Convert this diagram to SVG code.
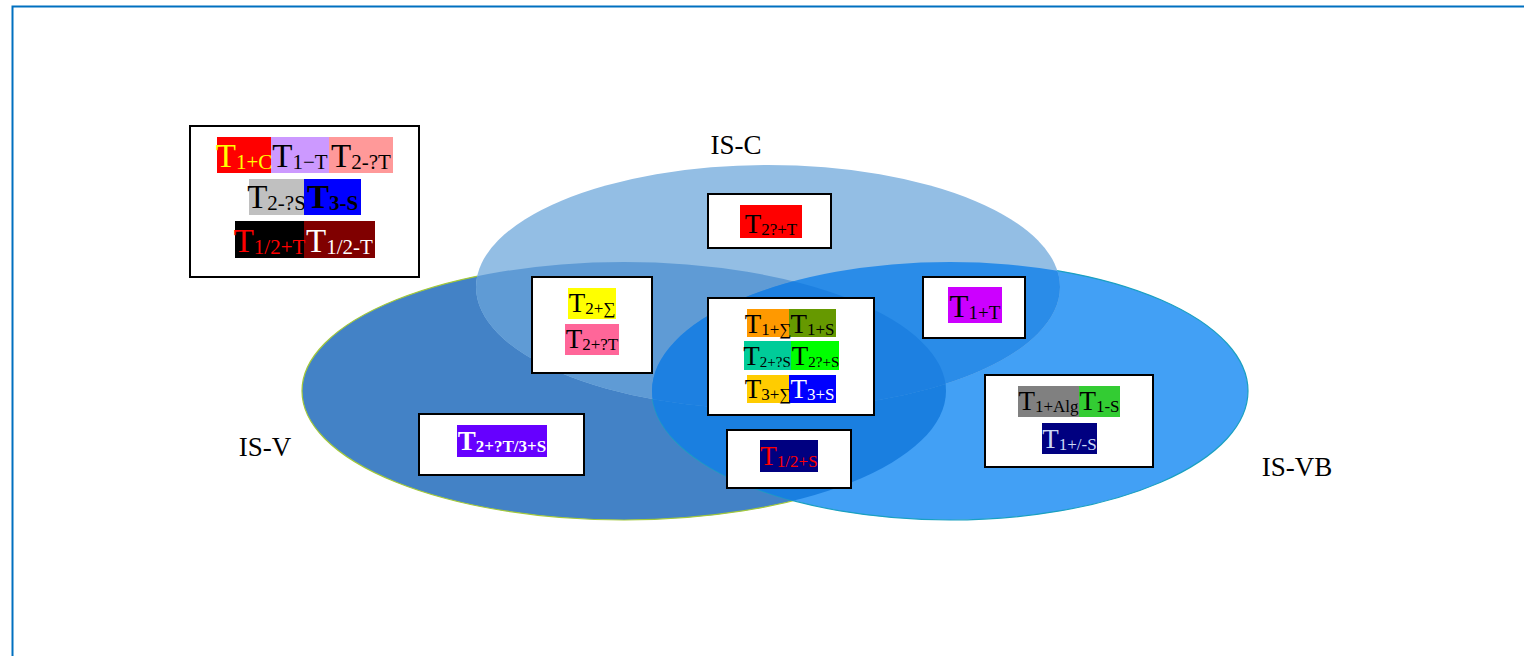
<svg xmlns="http://www.w3.org/2000/svg" width="1524" height="656" viewBox="0 0 1524 656" font-family="'Liberation Serif', 'Times New Roman', 'DejaVu Serif', serif">
<style>
text{font-family:"Liberation Serif","Times New Roman","DejaVu Serif",serif;}
.box{fill:#fff;stroke:#000;stroke-width:2;}
.lbl{font-size:27px;fill:#000;}
.t32{font-size:33px;}
.t30{font-size:31px;}
.t27{font-size:27px;}
.s32{font-size:21px;}
.s30{font-size:19px;}
.s27{font-size:17px;}
.s15{font-size:15px;}
</style>
<defs>
<clipPath id="cV"><ellipse cx="624" cy="391" rx="322" ry="129"/></clipPath>
<clipPath id="cVB"><ellipse cx="950" cy="391" rx="298" ry="129"/></clipPath>
</defs>
<rect width="1524" height="656" fill="#fff"/>
<path d="M12.5 656 V6.5 H1524" fill="none" stroke="#0070c0" stroke-width="2"/>
<g id="sets">
<ellipse id="IS-V" cx="624" cy="391" rx="322" ry="129" fill="#4382c6" stroke="#a2c83a" stroke-width="1.2"/>
<ellipse id="IS-VB" cx="950" cy="391" rx="298" ry="129" fill="#42a0f5" stroke="#1aa0c0" stroke-width="1.2"/>
<ellipse id="IS-C" cx="768" cy="287" rx="292" ry="122" fill="#93bee4"/>
<ellipse cx="950" cy="391" rx="298" ry="129" fill="#1a7fe0" clip-path="url(#cV)"/>
<ellipse cx="768" cy="287" rx="292" ry="122" fill="#5f9bd5" clip-path="url(#cV)"/>
<ellipse cx="768" cy="287" rx="292" ry="122" fill="#2a8ce8" clip-path="url(#cVB)"/>
<g clip-path="url(#cV)"><ellipse cx="768" cy="287" rx="292" ry="122" fill="#1d80e1" clip-path="url(#cVB)"/></g>
</g>
<g id="labels">
<text class="lbl" x="736" y="154" text-anchor="middle">IS-C</text>
<text class="lbl" x="265" y="456" text-anchor="middle">IS-V</text>
<text class="lbl" x="1297" y="476" text-anchor="middle">IS-VB</text>
</g>
<g id="legend">
<rect class="box" x="190" y="126" width="229" height="151"/>
<rect x="217" y="137" width="54" height="36" fill="#ff0000"/>
<rect x="271" y="137" width="58" height="36" fill="#cc99ff"/>
<rect x="329" y="137" width="64" height="36" fill="#ff9999"/>
<rect x="249" y="179" width="55" height="36" fill="#c0c0c0"/>
<rect x="304" y="179" width="57" height="36" fill="#0000ff"/>
<rect x="235" y="221" width="69" height="37" fill="#000000"/>
<rect x="304" y="221" width="71" height="37" fill="#800000"/>
<text x="244" y="167" text-anchor="middle" fill="#ffff00"><tspan class="t32">T</tspan><tspan class="s32" dy="2">1+C</tspan></text>
<text x="300" y="167" text-anchor="middle" fill="#000"><tspan class="t32">T</tspan><tspan class="s32" dy="2">1−T</tspan></text>
<text x="361" y="167" text-anchor="middle" fill="#000"><tspan class="t32">T</tspan><tspan class="s32" dy="2">2-?T</tspan></text>
<text x="276.5" y="208" text-anchor="middle" fill="#000"><tspan class="t32">T</tspan><tspan class="s32" dy="2">2-?S</tspan></text>
<text x="332.5" y="208" text-anchor="middle" fill="#000" font-weight="bold"><tspan class="t32">T</tspan><tspan class="s32" dy="2">3-S</tspan></text>
<text x="269.5" y="252" text-anchor="middle" fill="#ff0000"><tspan class="t32">T</tspan><tspan class="s32" dy="2">1/2+T</tspan></text>
<text x="339.5" y="252" text-anchor="middle" fill="#ffffff"><tspan class="t32">T</tspan><tspan class="s32" dy="2">1/2-T</tspan></text>
</g>
<g id="node-c">
<rect class="box" x="708" y="194" width="123" height="54"/>
<rect x="740" y="205" width="62" height="33" fill="#ff0000"/>
<text x="771" y="233" text-anchor="middle" fill="#000"><tspan class="t27">T</tspan><tspan class="s27" dy="2">2?+T</tspan></text>
</g>
<g id="node-vc">
<rect class="box" x="532" y="277" width="120" height="96"/>
<rect x="568" y="288" width="48" height="31" fill="#ffff00"/>
<rect x="565" y="324" width="54" height="31" fill="#ff6699"/>
<text x="592" y="312" text-anchor="middle" fill="#000"><tspan class="t27">T</tspan><tspan class="s27" dy="2">2+∑</tspan></text>
<text x="592" y="348" text-anchor="middle" fill="#000"><tspan class="t27">T</tspan><tspan class="s27" dy="2">2+?T</tspan></text>
</g>
<g id="node-all">
<rect class="box" x="708" y="298" width="166" height="117"/>
<rect x="747" y="309" width="42" height="28" fill="#ff9900"/>
<rect x="789" y="309" width="47" height="28" fill="#669900"/>
<rect x="744" y="341" width="47" height="29" fill="#00cc99"/>
<rect x="791" y="341" width="48" height="29" fill="#00ff00"/>
<rect x="747" y="375" width="42" height="28" fill="#ffcc00"/>
<rect x="789" y="375" width="47" height="28" fill="#0000ff"/>
<text x="768" y="333" text-anchor="middle" fill="#000"><tspan class="t27">T</tspan><tspan class="s27" dy="2">1+∑</tspan></text>
<text x="812.5" y="333" text-anchor="middle" fill="#000"><tspan class="t27">T</tspan><tspan class="s27" dy="2">1+S</tspan></text>
<text x="767" y="365" text-anchor="middle" fill="#000"><tspan class="t27">T</tspan><tspan class="s15" dy="2">2+?S</tspan></text>
<text x="815.5" y="365" text-anchor="middle" fill="#000"><tspan class="t27">T</tspan><tspan class="s15" dy="2">2?+S</tspan></text>
<text x="768" y="398" text-anchor="middle" fill="#000"><tspan class="t27">T</tspan><tspan class="s27" dy="2">3+∑</tspan></text>
<text x="812.5" y="398" text-anchor="middle" fill="#ffffff"><tspan class="t27">T</tspan><tspan class="s27" dy="2">3+S</tspan></text>
</g>
<g id="node-cvb">
<rect class="box" x="923" y="277" width="102" height="61"/>
<rect x="948" y="287" width="54" height="36" fill="#cc00ff"/>
<text x="975" y="317" text-anchor="middle" fill="#000"><tspan class="t30">T</tspan><tspan class="s30" dy="2">1+T</tspan></text>
</g>
<g id="node-vb">
<rect class="box" x="985" y="375" width="168" height="92"/>
<rect x="1018" y="386" width="61" height="31" fill="#808080"/>
<rect x="1079" y="386" width="41" height="31" fill="#33cc33"/>
<rect x="1042" y="423" width="55" height="31" fill="#000080"/>
<text x="1048.5" y="410" text-anchor="middle" fill="#000"><tspan class="t27">T</tspan><tspan class="s27" dy="2">1+Alg</tspan></text>
<text x="1099.5" y="410" text-anchor="middle" fill="#000"><tspan class="t27">T</tspan><tspan class="s27" dy="2">1-S</tspan></text>
<text x="1069.5" y="448" text-anchor="middle" fill="#ccd9f5"><tspan class="t27">T</tspan><tspan class="s27" dy="2">1+/-S</tspan></text>
</g>
<g id="node-v">
<rect class="box" x="419" y="414" width="165" height="61"/>
<rect x="457" y="425" width="90" height="32" fill="#6600ff"/>
<text x="502" y="450" text-anchor="middle" fill="#ffffff" font-weight="bold"><tspan class="t27">T</tspan><tspan class="s27" dy="2">2+?T/3+S</tspan></text>
</g>
<g id="node-vvb">
<rect class="box" x="727" y="430" width="124" height="58"/>
<rect x="760" y="440" width="58" height="32" fill="#000080"/>
<text x="789" y="465" text-anchor="middle" fill="#ff0000"><tspan class="t27">T</tspan><tspan class="s27" dy="2">1/2+S</tspan></text>
</g>
<g id="connectors"/>
</svg>
